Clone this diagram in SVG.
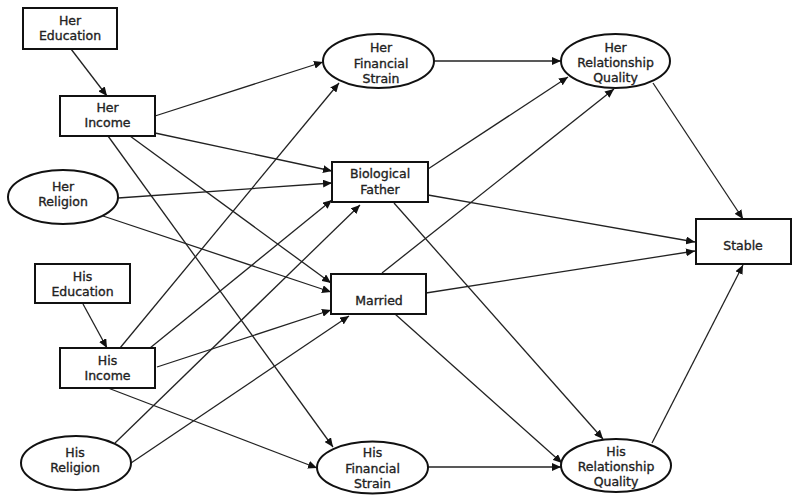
<svg xmlns="http://www.w3.org/2000/svg" width="800" height="502" viewBox="0 0 800 502">
<defs>
<marker id="arr" markerUnits="userSpaceOnUse" markerWidth="10" markerHeight="8" refX="9" refY="4" orient="auto">
<path d="M0,0 L9,4 L0,8 z" fill="#111"/>
</marker>
</defs>
<style>
.n{fill:#fff;stroke:#111;stroke-width:2}
.t{font-family:"DejaVu Sans","Verdana",sans-serif;font-size:12.5px;fill:#222;stroke:#222;stroke-width:0.35;text-anchor:middle}
.e line{stroke:#222;stroke-width:1.3;marker-end:url(#arr)}
</style>
<rect width="800" height="502" fill="#fff"/>
<g id="connectors" class="e">
<line x1="71" y1="49" x2="107" y2="96"/>
<line x1="83" y1="304" x2="107" y2="348"/>
<line x1="155" y1="116" x2="323" y2="62"/>
<line x1="155" y1="133" x2="332" y2="171"/>
<line x1="130" y1="136" x2="331" y2="283"/>
<line x1="108" y1="136" x2="333" y2="447"/>
<line x1="118" y1="198" x2="332" y2="183"/>
<line x1="103" y1="216" x2="331" y2="292"/>
<line x1="120" y1="348" x2="339" y2="83"/>
<line x1="150" y1="348" x2="332" y2="200"/>
<line x1="157" y1="367" x2="331" y2="310"/>
<line x1="108" y1="388" x2="317" y2="468"/>
<line x1="115" y1="443" x2="360" y2="205"/>
<line x1="131" y1="463" x2="349" y2="316"/>
<line x1="434" y1="61" x2="561" y2="61"/>
<line x1="428" y1="467" x2="561" y2="467"/>
<line x1="428" y1="169" x2="568" y2="77"/>
<line x1="382" y1="273" x2="614" y2="89"/>
<line x1="428" y1="195" x2="695" y2="242"/>
<line x1="426" y1="293" x2="695" y2="251"/>
<line x1="394" y1="203" x2="603" y2="439"/>
<line x1="395" y1="314" x2="562" y2="463"/>
<line x1="653" y1="83" x2="743" y2="219"/>
<line x1="652" y1="443" x2="743" y2="265"/>
</g>
<g id="herEducation"><rect class="n" x="23" y="8" width="94" height="41"/><text class="t" x="70" y="25">Her</text><text class="t" x="70" y="40">Education</text></g>
<g id="herIncome"><rect class="n" x="60" y="96" width="95" height="40"/><text class="t" x="107.5" y="112">Her</text><text class="t" x="107.5" y="127">Income</text></g>
<g id="herReligion"><ellipse class="n" cx="63" cy="197" rx="55" ry="27"/><text class="t" x="63" y="191">Her</text><text class="t" x="63" y="206">Religion</text></g>
<g id="hisEducation"><rect class="n" x="35" y="264" width="95" height="39"/><text class="t" x="82.5" y="281">His</text><text class="t" x="82.5" y="296">Education</text></g>
<g id="hisIncome"><rect class="n" x="60" y="348" width="95" height="40"/><text class="t" x="107.5" y="365">His</text><text class="t" x="107.5" y="380">Income</text></g>
<g id="hisReligion"><ellipse class="n" cx="76" cy="463" rx="55" ry="27"/><text class="t" x="75" y="457">His</text><text class="t" x="75" y="472">Religion</text></g>
<g id="herFinancialStrain"><ellipse class="n" cx="378.5" cy="61" rx="55.5" ry="27"/><text class="t" x="381" y="52">Her</text><text class="t" x="381" y="68">Financial</text><text class="t" x="381" y="83">Strain</text></g>
<g id="biologicalFather"><rect class="n" x="332" y="162" width="96" height="40"/><text class="t" x="380" y="178">Biological</text><text class="t" x="380" y="194">Father</text></g>
<g id="married"><rect class="n" x="331" y="274" width="95" height="40"/><text class="t" x="379" y="305">Married</text></g>
<g id="hisFinancialStrain"><ellipse class="n" cx="372.5" cy="467.5" rx="55.5" ry="26"/><text class="t" x="372.5" y="457">His</text><text class="t" x="372.5" y="473">Financial</text><text class="t" x="372.5" y="488">Strain</text></g>
<g id="herRelationshipQuality"><ellipse class="n" cx="615.5" cy="61" rx="54.5" ry="27"/><text class="t" x="615.5" y="52">Her</text><text class="t" x="615.5" y="67">Relationship</text><text class="t" x="615.5" y="82">Quality</text></g>
<g id="hisRelationshipQuality"><ellipse class="n" cx="616" cy="465.5" rx="55" ry="26.5"/><text class="t" x="616" y="456">His</text><text class="t" x="616" y="471">Relationship</text><text class="t" x="616" y="486">Quality</text></g>
<g id="stable"><rect class="n" x="696" y="219" width="95" height="45"/><text class="t" x="743" y="250">Stable</text></g>
</svg>
